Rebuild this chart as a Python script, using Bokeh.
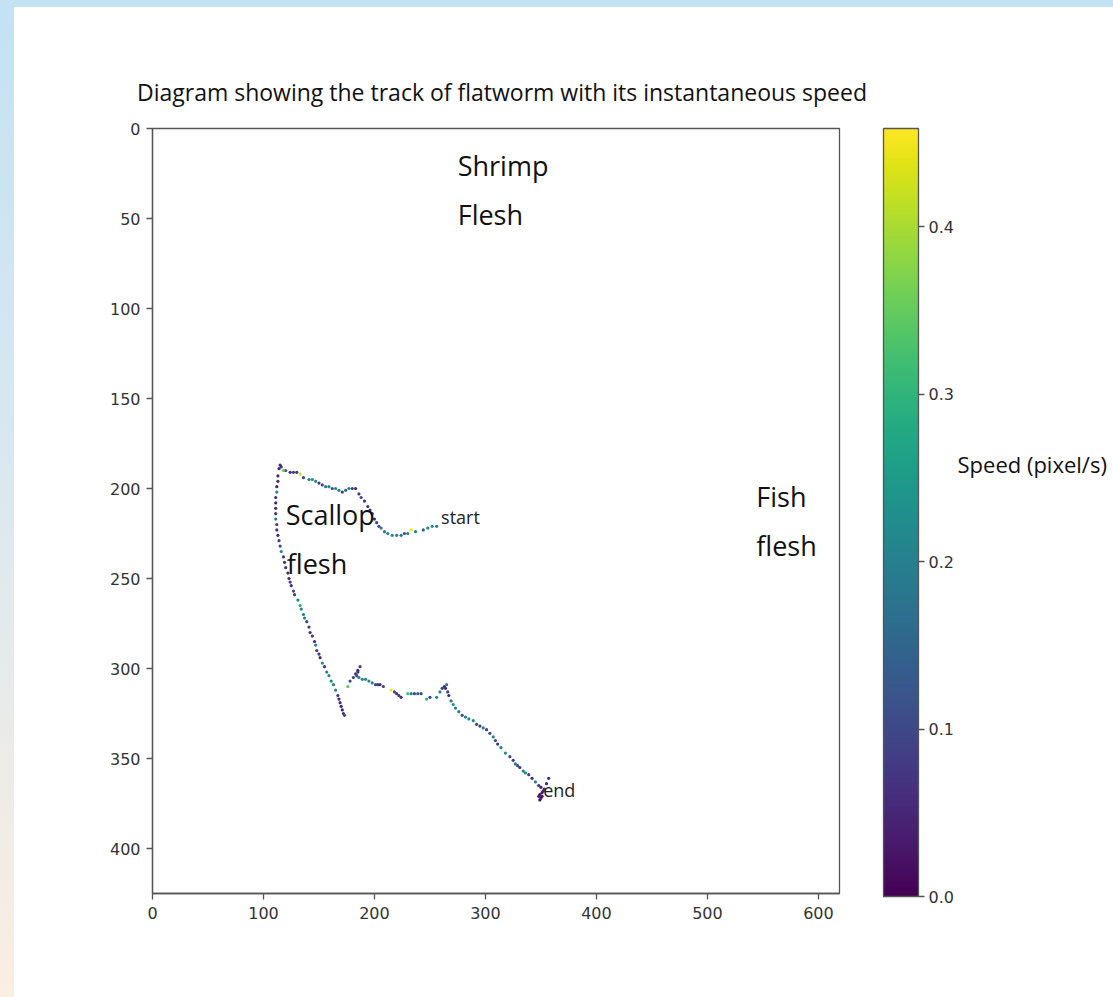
from bokeh.plotting import figure
from bokeh.models import (Range1d, FixedTicker, LinearColorMapper, ColorBar, Label,
                          PrintfTickFormatter, Div, ColumnDataSource)
from bokeh.palettes import Viridis256
from bokeh.layouts import row, column
from bokeh.transform import linear_cmap
from bokeh.embed import file_html
from bokeh.resources import INLINE

# ---- data: flatworm track (pixel coordinates) and instantaneous speed (pixel/s)
track_x = [256, 252, 248, 244, 237, 233, 230, 227, 224, 220, 216, 212, 209, 206, 204, 202, 200, 198, 196, 194,
           191, 188, 186, 183, 180, 177, 174, 171, 168, 165, 162, 159, 156, 153, 150, 147, 144, 141, 136, 133,
           130, 127, 124, 120, 118, 116, 115, 114, 113, 113, 112, 112, 111, 111, 111, 111, 111, 112, 112, 113,
           114, 115, 116, 118, 119, 120, 122, 123, 124, 125, 127, 128, 131, 133, 134, 136, 137, 139, 141, 142,
           144, 146, 147, 148, 150, 151, 153, 155, 157, 159, 161, 163, 165, 167, 168, 169, 170, 171, 172, 173,
           176, 178, 181, 183, 185, 187, 185, 184, 186, 189, 192, 195, 198, 201, 203, 205, 208, 215, 218, 220,
           222, 224, 230, 233, 236, 239, 242, 247, 250, 256, 259, 261, 263, 265, 264, 266, 267, 269, 271, 273,
           276, 279, 282, 285, 289, 292, 295, 298, 301, 304, 307, 309, 311, 314, 318, 322, 325, 327, 329, 331,
           334, 336, 339, 342, 345, 348, 350, 352, 357, 355, 353, 351, 349, 350, 349, 348, 351]
track_y = [221, 221, 222, 223, 224, 223, 225, 225, 226, 226, 226, 225, 224, 222, 221, 219, 217, 214, 212, 210,
           207, 205, 203, 200, 200, 200, 201, 202, 201, 200, 200, 199, 199, 198, 197, 196, 195, 195, 194, 192,
           191, 191, 191, 190, 190, 188, 187, 189, 193, 196, 199, 202, 205, 208, 211, 214, 217, 220, 223, 226,
           229, 232, 235, 238, 241, 244, 247, 250, 252, 254, 257, 259, 262, 265, 267, 270, 272, 274, 277, 280,
           282, 285, 287, 290, 292, 294, 297, 299, 302, 304, 307, 309, 312, 315, 317, 319, 321, 323, 325, 326,
           310, 307, 305, 303, 301, 299, 302, 304, 305, 306, 306, 307, 308, 309, 309, 309, 310, 312, 313, 314,
           315, 316, 314, 314, 314, 314, 314, 317, 316, 316, 313, 311, 310, 309, 311, 313, 315, 318, 320, 322,
           324, 326, 327, 328, 329, 331, 332, 333, 334, 336, 338, 340, 342, 344, 347, 349, 351, 353, 354, 355,
           357, 358, 359, 361, 363, 365, 366, 368, 361, 364, 367, 369, 370, 372, 373, 371, 371]
speed = [0.20, 0.22, 0.20, 0.12, 0.20, 0.45, 0.20, 0.10, 0.18, 0.20, 0.22, 0.20, 0.20, 0.20, 0.10, 0.08, 0.06, 0.10, 0.08, 0.06,
         0.07, 0.10, 0.08, 0.06, 0.07, 0.20, 0.15, 0.08, 0.20, 0.22, 0.10, 0.20, 0.20, 0.10, 0.08, 0.20, 0.22, 0.20, 0.10, 0.42,
         0.08, 0.08, 0.06, 0.10, 0.35, 0.08, 0.05, 0.06, 0.05, 0.06, 0.06, 0.20, 0.06, 0.05, 0.05, 0.07, 0.20, 0.08, 0.07, 0.06,
         0.08, 0.10, 0.20, 0.08, 0.06, 0.08, 0.06, 0.05, 0.07, 0.06, 0.10, 0.08, 0.22, 0.28, 0.22, 0.20, 0.22, 0.10, 0.08, 0.06,
         0.07, 0.06, 0.20, 0.08, 0.07, 0.06, 0.22, 0.07, 0.20, 0.22, 0.20, 0.22, 0.20, 0.08, 0.05, 0.06, 0.04, 0.05, 0.06, 0.10,
         0.34, 0.10, 0.08, 0.10, 0.06, 0.08, 0.06, 0.10, 0.20, 0.22, 0.20, 0.22, 0.20, 0.10, 0.08, 0.06, 0.08, 0.45, 0.10, 0.08,
         0.06, 0.05, 0.32, 0.20, 0.10, 0.15, 0.10, 0.30, 0.08, 0.22, 0.20, 0.08, 0.06, 0.20, 0.06, 0.08, 0.06, 0.20, 0.22, 0.20,
         0.20, 0.10, 0.20, 0.22, 0.20, 0.10, 0.08, 0.20, 0.08, 0.10, 0.22, 0.10, 0.08, 0.20, 0.22, 0.10, 0.08, 0.20, 0.10, 0.06,
         0.20, 0.22, 0.08, 0.05, 0.20, 0.06, 0.04, 0.05, 0.06, 0.05, 0.04, 0.03, 0.02, 0.03, 0.02, 0.03, 0.02]

speed_max = 0.4587
x_ticks = [0, 100, 200, 300, 400, 500, 600]
y_ticks = [0, 50, 100, 150, 200, 250, 300, 350, 400]
cbar_ticks = [0.0, 0.1, 0.2, 0.3, 0.4]

title_text = "Diagram showing the track of flatworm with its instantaneous speed"
cbar_label = "Speed (pixel/s)"
region_labels = ["Shrimp", "Flesh", "Scallop", "flesh", "Fish", "flesh"]
region_x = [275, 275, 120, 121, 544, 544]
region_y = [20.6, 47.6, 214.4, 241.4, 204.6, 231.6]
marker_labels = ["start", "end"]
marker_x = [260, 352]
marker_y = [216, 367.6]

AX = "#555555"
TXT = "#333333"
TICKFONT = "DejaVu Sans"
TEXTFONT = "Open Sans"

# ---- title (HTML block spanning the plot and the colour bar)
title_div = Div(
    text=('<div style="margin:0; padding:70px 0 0 123px; font-family:\'Open Sans\'; font-size:23px; '
          'line-height:31px; color:#111111; white-space:nowrap;">' + title_text + '</div>'),
    width=1099, height=101, margin=0, styles={"background": "white"})

# ---- main plot
p = figure(x_range=Range1d(0, 619), y_range=Range1d(425, 0),
           frame_width=687, frame_height=765,
           min_border_left=138, min_border_top=20, min_border_bottom=99, min_border_right=20,
           output_backend="svg", toolbar_location=None,
           background_fill_color="white", border_fill_color="white")
p.xgrid.visible = False
p.ygrid.visible = False
p.outline_line_color = AX
p.outline_line_width = 1.3

for ax, ticks in ((p.xaxis, x_ticks), (p.yaxis, y_ticks)):
    ax.ticker = FixedTicker(ticks=ticks)
    ax.axis_line_color = AX
    ax.axis_line_width = 1.3
    ax.major_tick_line_color = AX
    ax.major_tick_line_width = 1.3
    ax.major_tick_out = 6
    ax.major_tick_in = 0
    ax.minor_tick_line_color = None
    ax.major_label_text_font = TICKFONT
    ax.major_label_text_font_size = "16px"
    ax.major_label_text_color = TXT
p.xaxis.major_label_standoff = 7
p.yaxis.major_label_standoff = 6

src = ColumnDataSource(dict(x=track_x, y=track_y, speed=speed))
p.scatter("x", "y", source=src, size=3.2, line_color=None,
          fill_color=linear_cmap("speed", Viridis256, 0, speed_max))

for t, x, y in zip(region_labels, region_x, region_y):
    p.add_layout(Label(x=x, y=y, text=t, text_font=TEXTFONT, text_font_size="27px",
                       text_color="#111111", text_baseline="alphabetic", text_align="left"))
for t, x, y in zip(marker_labels, marker_x, marker_y):
    p.add_layout(Label(x=x, y=y, text=t, text_font=TEXTFONT, text_font_size="18px",
                       text_color="#222222", text_baseline="alphabetic", text_align="left"))

# ---- colour bar panel
pc = figure(x_range=Range1d(0, 230), y_range=Range1d(0, 768),
            frame_width=230, frame_height=768,
            min_border_left=24, min_border_top=16, min_border_bottom=100, min_border_right=0,
            output_backend="svg", toolbar_location=None,
            background_fill_color="white", border_fill_color="white")
pc.axis.visible = False
pc.xgrid.visible = False
pc.ygrid.visible = False
pc.outline_line_color = None

mapper = LinearColorMapper(palette=Viridis256, low=0, high=speed_max)
cbar = ColorBar(color_mapper=mapper, ticker=FixedTicker(ticks=cbar_ticks),
                formatter=PrintfTickFormatter(format="%.1f"),
                width=35, height=768, location=(0, 0), padding=0, margin=0,
                bar_line_color=AX, bar_line_width=1.3,
                major_tick_line_color=AX, major_tick_line_width=1.3,
                major_tick_out=6, major_tick_in=0, minor_tick_line_color=None,
                major_label_text_font=TICKFONT, major_label_text_font_size="16px",
                major_label_text_color=TXT, label_standoff=4,
                background_fill_alpha=0, border_line_color=None)
pc.add_layout(cbar, "center")
pc.add_layout(Label(x=74, y=432.5, text=cbar_label, text_font=TEXTFONT, text_font_size="22px",
                    text_color="#111111", text_baseline="middle", text_align="left"))

# ---- page framing strips (light blue / beige background of the screenshot)
top_strip = Div(text="", width=1113, height=7, margin=0,
                styles={"background": "#c3e2f3"})
left_strip = Div(text="", width=14, height=990, margin=0,
                 styles={"background": "linear-gradient(180deg, #c3e2f3 0%, #d9e8f0 45%, #fbeee2 100%)"})

layout = column(top_strip,
                row(left_strip,
                    column(title_div, row(p, pc, spacing=0), spacing=0),
                    spacing=0),
                spacing=0)

open("out.html", "w").write(file_html(layout, INLINE))
